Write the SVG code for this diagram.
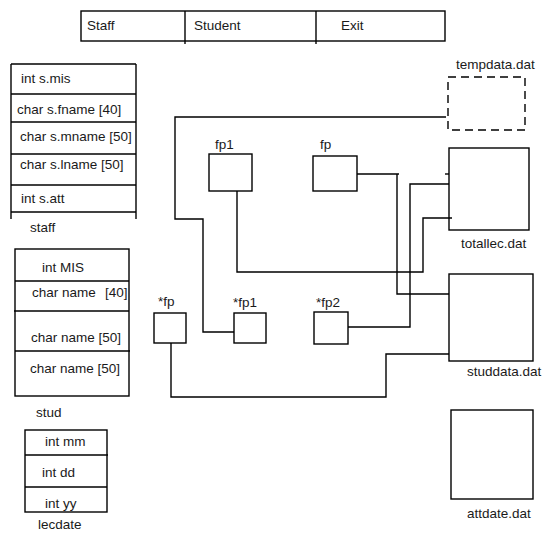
<svg xmlns="http://www.w3.org/2000/svg" width="552" height="544" viewBox="0 0 552 544">
<style>
text{font-family:"Liberation Sans",Arial,sans-serif;font-size:13.5px;fill:#1a1a1a}
.b{fill:none;stroke:#000;stroke-width:1.4}
.l{stroke:#000;stroke-width:1.4;fill:none}
.d{fill:none;stroke:#000;stroke-width:1.4;stroke-dasharray:8,5}
</style>
<rect width="552" height="544" fill="#fff"/>
<g id="menu">
<rect class="b" x="81" y="11" width="364" height="30"/>
<line class="l" x1="185" y1="11" x2="185" y2="44"/>
<line class="l" x1="316" y1="11" x2="316" y2="44"/>
<text x="87" y="30">Staff</text>
<text x="194" y="30">Student</text>
<text x="341" y="30">Exit</text>
</g>
<g id="staff">
<line class="l" x1="11" y1="64" x2="136" y2="64"/>
<line class="l" x1="11" y1="64" x2="11" y2="219"/>
<line class="l" x1="136" y1="64" x2="136" y2="219"/>
<line class="l" x1="11" y1="94" x2="136" y2="94"/>
<line class="l" x1="11" y1="122" x2="136" y2="122"/>
<line class="l" x1="11" y1="154" x2="136" y2="154"/>
<line class="l" x1="11" y1="185" x2="136" y2="185"/>
<line class="l" x1="11" y1="212" x2="136" y2="212"/>
<text x="21" y="83">int s.mis</text>
<text x="17" y="114">char s.fname [40]</text>
<text x="20" y="141">char s.mname [50]</text>
<text x="20" y="169">char s.lname [50]</text>
<text x="21" y="203">int s.att</text>
<text x="30" y="232">staff</text>
</g>
<g id="stud">
<rect class="b" x="15" y="249" width="114" height="147"/>
<line class="l" x1="15" y1="281" x2="129" y2="281"/>
<line class="l" x1="14" y1="311" x2="129" y2="311"/>
<line class="l" x1="15" y1="351" x2="130" y2="351"/>
<text x="42" y="272">int MIS</text>
<text x="32" y="297">char name</text>
<text x="105" y="297">[40]</text>
<text x="31" y="342">char name [50]</text>
<text x="30" y="373">char name [50]</text>
<text x="36" y="417">stud</text>
</g>
<g id="lecdate">
<rect class="b" x="25" y="430" width="82" height="82"/>
<line class="l" x1="25" y1="455" x2="108" y2="455"/>
<line class="l" x1="25" y1="487" x2="107" y2="487"/>
<text x="45" y="446">int mm</text>
<text x="42" y="477">int dd</text>
<text x="45" y="508">int yy</text>
<text x="38" y="529">lecdate</text>
</g>
<g id="tempdata">
<rect class="d" x="448" y="77" width="77" height="53"/>
<text x="456" y="69">tempdata.dat</text>
</g>
<g id="totallec">
<rect class="b" x="449" y="148" width="80" height="82"/>
<text x="461" y="248">totallec.dat</text>
</g>
<g id="studdata">
<rect class="b" x="449" y="274" width="84" height="87"/>
<text x="467" y="376">studdata.dat</text>
</g>
<g id="attdate">
<rect class="b" x="451" y="410" width="82" height="89"/>
<text x="467" y="518">attdate.dat</text>
</g>
<g id="fp1">
<rect class="b" x="209" y="154" width="43" height="37"/>
<text x="215" y="149">fp1</text>
</g>
<g id="fp">
<rect class="b" x="313" y="156" width="44" height="35"/>
<text x="320" y="149">fp</text>
</g>
<g id="pfp">
<rect class="b" x="154" y="313" width="32" height="30"/>
<text x="158" y="306">*fp</text>
</g>
<g id="pfp1">
<rect class="b" x="234" y="313" width="32" height="30"/>
<text x="233" y="307">*fp1</text>
</g>
<g id="pfp2">
<rect class="b" x="314" y="312" width="34" height="32"/>
<text x="316" y="307">*fp2</text>
</g>
<g id="connectors">
<polyline class="l" points="171,343 171,397 386,397 386,354 449,354"/>
<polyline class="l" points="234,332 203,332 203,219 175,219 175,117 446,117"/>
<polyline class="l" points="237,191 237,272 423,272 423,218 452,218"/>
<polyline class="l" points="357,174 399,174"/>
<polyline class="l" points="397,174 397,294 449,294"/>
<line class="l" x1="445" y1="174" x2="449" y2="174"/>
<polyline class="l" points="348,327 410,327 410,184 449,184"/>
</g>
</svg>
